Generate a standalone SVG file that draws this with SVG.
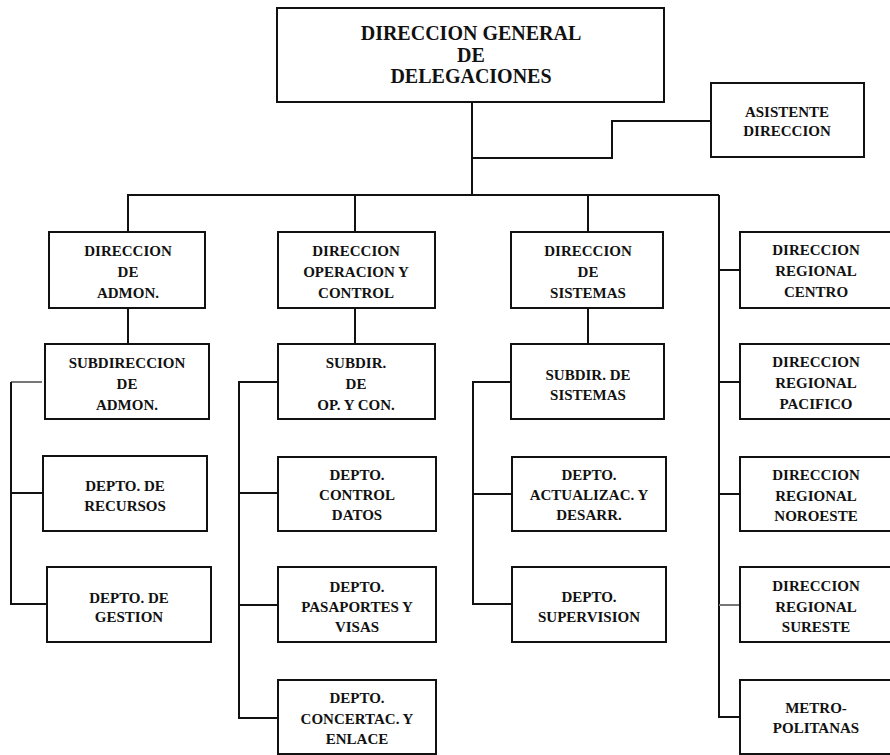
<svg xmlns="http://www.w3.org/2000/svg" width="890" height="755" viewBox="0 0 890 755">
  <style>
    .box { fill: #ffffff; stroke: #111111; stroke-width: 2; }
    .wire { fill: none; stroke: #111111; stroke-width: 2; }
    .faint { fill: none; stroke: #777777; stroke-width: 2; }
    text { font-family: "Liberation Serif", "Times New Roman", serif; font-weight: bold; font-size: 15px; fill: #111111; text-anchor: middle; }
    .title { font-size: 20px; }
  </style>
  <rect width="890" height="755" fill="#ffffff"/>

  <!-- connectors -->
  <g id="connectors">
    <!-- trunk from the head office -->
    <path class="wire" d="M472 102 V195"/>
    <path class="wire" d="M472 158 H612 V121 H711"/>
    <path class="wire" d="M127 195 H719"/>
    <path class="wire" d="M128 195 V232"/>
    <path class="wire" d="M355 195 V232"/>
    <path class="wire" d="M588 195 V232"/>
    <!-- administration branch -->
    <path class="wire" d="M128 308 V344"/>
    <path class="faint" d="M42 382 H11"/>
    <path class="wire" d="M11 382 V604 H47"/>
    <path class="wire" d="M11 493 H43"/>
    <!-- operations branch -->
    <path class="wire" d="M355 308 V344"/>
    <path class="wire" d="M278 382 H239 V718 H278"/>
    <path class="wire" d="M239 493 H278"/>
    <path class="wire" d="M239 605 H278"/>
    <!-- systems branch -->
    <path class="wire" d="M588 308 V344"/>
    <path class="wire" d="M511 382 H473 V604 H512"/>
    <path class="wire" d="M473 494 H512"/>
    <!-- regional branch -->
    <path class="wire" d="M719 195 V717 H740"/>
    <path class="wire" d="M719 270 H740"/>
    <path class="wire" d="M719 382 H740"/>
    <path class="wire" d="M719 494 H740"/>
    <path class="faint" d="M719 605 H740"/>
  </g>

  <g id="dir-general">
    <rect class="box" x="277" y="8" width="387" height="94"/>
    <text class="title" x="471" y="40">DIRECCION GENERAL</text>
    <text class="title" x="471" y="62">DE</text>
    <text class="title" x="471" y="83">DELEGACIONES</text>
  </g>

  <g id="asistente">
    <rect class="box" x="711" y="83" width="153" height="74"/>
    <text x="787" y="117">ASISTENTE</text>
    <text x="787" y="136">DIRECCION</text>
  </g>

  <!-- column 1 -->
  <g id="dir-admon">
    <rect class="box" x="49" y="232" width="156" height="76"/>
    <text x="128" y="256">DIRECCION</text>
    <text x="128" y="277">DE</text>
    <text x="128" y="298">ADMON.</text>
  </g>
  <g id="subdir-admon">
    <rect class="box" x="45" y="344" width="164" height="75"/>
    <text x="127" y="368">SUBDIRECCION</text>
    <text x="127" y="389">DE</text>
    <text x="127" y="410">ADMON.</text>
  </g>
  <g id="depto-recursos">
    <rect class="box" x="43" y="456" width="164" height="75"/>
    <text x="125" y="491">DEPTO. DE</text>
    <text x="125" y="511">RECURSOS</text>
  </g>
  <g id="depto-gestion">
    <rect class="box" x="47" y="567" width="164" height="75"/>
    <text x="129" y="603">DEPTO. DE</text>
    <text x="129" y="622">GESTION</text>
  </g>

  <!-- column 2 -->
  <g id="dir-operacion">
    <rect class="box" x="278" y="232" width="157" height="76"/>
    <text x="356" y="256">DIRECCION</text>
    <text x="356" y="277">OPERACION Y</text>
    <text x="356" y="298">CONTROL</text>
  </g>
  <g id="subdir-operacion">
    <rect class="box" x="278" y="344" width="157" height="75"/>
    <text x="356" y="368">SUBDIR.</text>
    <text x="356" y="389">DE</text>
    <text x="356" y="410">OP. Y CON.</text>
  </g>
  <g id="depto-control">
    <rect class="box" x="278" y="457" width="158" height="74"/>
    <text x="357" y="480">DEPTO.</text>
    <text x="357" y="500">CONTROL</text>
    <text x="357" y="520">DATOS</text>
  </g>
  <g id="depto-pasaportes">
    <rect class="box" x="278" y="567" width="158" height="75"/>
    <text x="357" y="592">DEPTO.</text>
    <text x="357" y="612">PASAPORTES Y</text>
    <text x="357" y="632">VISAS</text>
  </g>
  <g id="depto-concertac">
    <rect class="box" x="278" y="680" width="158" height="74"/>
    <text x="357" y="703">DEPTO.</text>
    <text x="357" y="724">CONCERTAC. Y</text>
    <text x="357" y="744">ENLACE</text>
  </g>

  <!-- column 3 -->
  <g id="dir-sistemas">
    <rect class="box" x="511" y="232" width="152" height="76"/>
    <text x="588" y="256">DIRECCION</text>
    <text x="588" y="277">DE</text>
    <text x="588" y="298">SISTEMAS</text>
  </g>
  <g id="subdir-sistemas">
    <rect class="box" x="511" y="344" width="153" height="75"/>
    <text x="588" y="380">SUBDIR. DE</text>
    <text x="588" y="400">SISTEMAS</text>
  </g>
  <g id="depto-actualizac">
    <rect class="box" x="512" y="457" width="154" height="74"/>
    <text x="589" y="480">DEPTO.</text>
    <text x="589" y="500">ACTUALIZAC. Y</text>
    <text x="589" y="520">DESARR.</text>
  </g>
  <g id="depto-supervision">
    <rect class="box" x="512" y="567" width="154" height="75"/>
    <text x="589" y="602">DEPTO.</text>
    <text x="589" y="622">SUPERVISION</text>
  </g>

  <!-- column 4 -->
  <g id="reg-centro">
    <rect class="box" x="740" y="232" width="154" height="76"/>
    <text x="816" y="255">DIRECCION</text>
    <text x="816" y="276">REGIONAL</text>
    <text x="816" y="297">CENTRO</text>
  </g>
  <g id="reg-pacifico">
    <rect class="box" x="740" y="344" width="154" height="75"/>
    <text x="816" y="367">DIRECCION</text>
    <text x="816" y="388">REGIONAL</text>
    <text x="816" y="409">PACIFICO</text>
  </g>
  <g id="reg-noroeste">
    <rect class="box" x="740" y="457" width="154" height="74"/>
    <text x="816" y="480">DIRECCION</text>
    <text x="816" y="501">REGIONAL</text>
    <text x="816" y="521">NOROESTE</text>
  </g>
  <g id="reg-sureste">
    <rect class="box" x="740" y="567" width="154" height="75"/>
    <text x="816" y="591">DIRECCION</text>
    <text x="816" y="612">REGIONAL</text>
    <text x="816" y="632">SURESTE</text>
  </g>
  <g id="metropolitanas">
    <rect class="box" x="740" y="680" width="154" height="74"/>
    <text x="816" y="713">METRO-</text>
    <text x="816" y="733">POLITANAS</text>
  </g>
</svg>
